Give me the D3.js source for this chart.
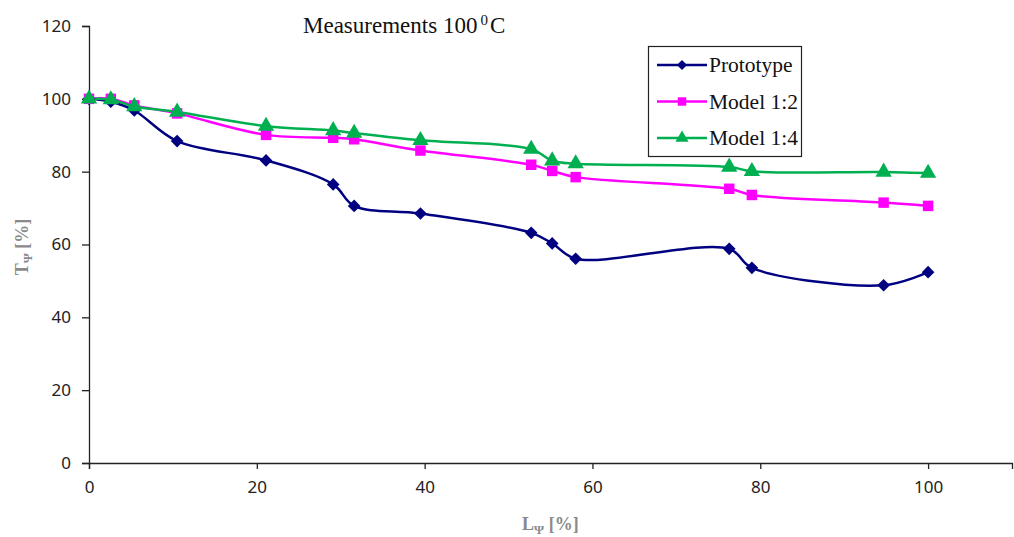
<!DOCTYPE html>
<html>
<head>
<meta charset="utf-8">
<script src="https://cdn.jsdelivr.net/npm/d3@7"></script>
<style>
  body { margin: 0; background: #fff; }
  svg { display: block; }
</style>
</head>
<body>
<script>
// data
var lengths = [0, 2.6, 5.4, 10.5, 21.1, 29.1, 31.6, 39.5, 52.7, 55.2, 58.0, 76.3, 79.0, 94.7, 100];
var prototype = [100, 99.2, 96.8, 88.4, 83.1, 76.5, 70.6, 68.5, 63.2, 60.3, 56.1, 58.8, 53.6, 48.8, 52.4];
var model12 = [100, 100, 98.2, 96.0, 90.1, 89.3, 88.9, 85.8, 81.9, 80.2, 78.5, 75.3, 73.6, 71.5, 70.6];
var model14 = [100, 99.8, 97.9, 96.4, 92.5, 91.3, 90.6, 88.6, 86.2, 83.0, 82.2, 81.3, 80.1, 79.9, 79.6];
var xTicks = [0, 20, 40, 60, 80, 100];
var yTicks = [0, 20, 40, 60, 80, 100, 120];

var series = [
    { name: "Prototype", values: prototype, color: "#000080", symbol: "diamond" },
    { name: "Model 1:2", values: model12, color: "#ff00ff", symbol: "square" },
    { name: "Model 1:4", values: model14, color: "#00b050", symbol: "triangle" }
];

var width = 1014, height = 537;
var margin = { top: 26, right: 2, bottom: 74, left: 89 };

var svg = d3.select("body").append("svg")
    .attr("width", width)
    .attr("height", height);

var x = d3.scaleLinear().domain([0, 110]).range([margin.left, width - margin.right]);
var y = d3.scaleLinear().domain([0, 120]).range([height - margin.bottom, margin.top]);

// marker shape; diamond is a square turned 45 degrees
function marker(kind, scale) {
    if (kind === "diamond") return { d: d3.symbol().type(d3.symbolSquare).size(80 * scale)(), rot: 45 };
    if (kind === "square") return { d: d3.symbol().type(d3.symbolSquare).size(110 * scale)(), rot: 0 };
    return { d: d3.symbol().type(d3.symbolTriangle).size(115 * scale)(), rot: 0 };
}

// axes
var xAxis = svg.append("g")
    .attr("transform", "translate(0," + y(0) + ")")
    .call(d3.axisBottom(x).tickValues(xTicks).tickSize(6).tickPadding(12));
var yAxis = svg.append("g")
    .attr("transform", "translate(" + x(0) + ",0)")
    .call(d3.axisLeft(y).tickValues(yTicks).tickSize(7).tickPadding(11));

[xAxis, yAxis].forEach(function (a) {
    a.select(".domain").attr("stroke", "#222").attr("stroke-width", 1.3);
    a.selectAll(".tick line").attr("stroke", "#222").attr("stroke-width", 1.3);
    a.selectAll(".tick text")
        .attr("fill", "#222")
        .style("font", "17px 'Noto Sans', sans-serif");
});

// lines
var line = d3.line()
    .x(function (d) { return x(d[0]); })
    .y(function (d) { return y(d[1]); })
    .curve(d3.curveCatmullRom.alpha(0.5));

series.forEach(function (s) {
    var pts = lengths.map(function (l, i) { return [l, s.values[i]]; });
    svg.append("path")
        .datum(pts)
        .attr("fill", "none")
        .attr("stroke", s.color)
        .attr("stroke-width", 2.5)
        .attr("d", line);
});

// markers drawn on top
series.forEach(function (s) {
    var m = marker(s.symbol, 1);
    svg.append("g").selectAll("path")
        .data(lengths.map(function (l, i) { return [l, s.values[i]]; }))
        .enter().append("path")
        .attr("transform", function (d) {
            return "translate(" + x(d[0]) + "," + y(d[1]) + ") rotate(" + m.rot + ")";
        })
        .attr("d", m.d)
        .attr("fill", s.color);
});

// title
var title = svg.append("text")
    .attr("x", 303)
    .attr("y", 33)
    .style("font", "23px 'Liberation Serif', serif")
    .attr("fill", "#111");
title.append("tspan").text("Measurements 100");
title.append("tspan").attr("dy", -8).attr("dx", 3).style("font-size", "15px").text("0");
title.append("tspan").attr("dy", 8).attr("dx", 2).text("C");

// axis titles
var yLab = svg.append("text")
    .attr("transform", "translate(28,247) rotate(-90)")
    .attr("text-anchor", "middle")
    .attr("fill", "#8a8a8a")
    .style("font", "bold 18px 'Liberation Serif', serif");
yLab.append("tspan").text("T");
yLab.append("tspan").attr("dy", 4).style("font-size", "13px").text("Ψ");
yLab.append("tspan").attr("dy", -4).text(" [%]");

var xLab = svg.append("text")
    .attr("x", 522)
    .attr("y", 530)
    .attr("fill", "#8a8a8a")
    .style("font", "bold 18px 'Liberation Serif', serif");
xLab.append("tspan").text("L");
xLab.append("tspan").attr("dy", 4).style("font-size", "13px").text("Ψ");
xLab.append("tspan").attr("dy", -4).text(" [%]");

// legend
var legend = svg.append("g");
legend.append("rect")
    .attr("x", 648.5).attr("y", 46.5)
    .attr("width", 153).attr("height", 110)
    .attr("fill", "#fff")
    .attr("stroke", "#222")
    .attr("stroke-width", 1.2);

series.forEach(function (s, i) {
    var ly = 65 + i * 36.5;
    var m = marker(s.symbol, 0.65);
    legend.append("line")
        .attr("x1", 657).attr("x2", 707)
        .attr("y1", ly).attr("y2", ly)
        .attr("stroke", s.color)
        .attr("stroke-width", 2.5);
    legend.append("path")
        .attr("transform", "translate(682," + ly + ") rotate(" + m.rot + ")")
        .attr("d", m.d)
        .attr("fill", s.color);
    legend.append("text")
        .attr("x", 709)
        .attr("y", ly + 7)
        .attr("fill", "#111")
        .style("font", "21.5px 'Liberation Serif', serif")
        .text(s.name);
});
</script>
</body>
</html>
